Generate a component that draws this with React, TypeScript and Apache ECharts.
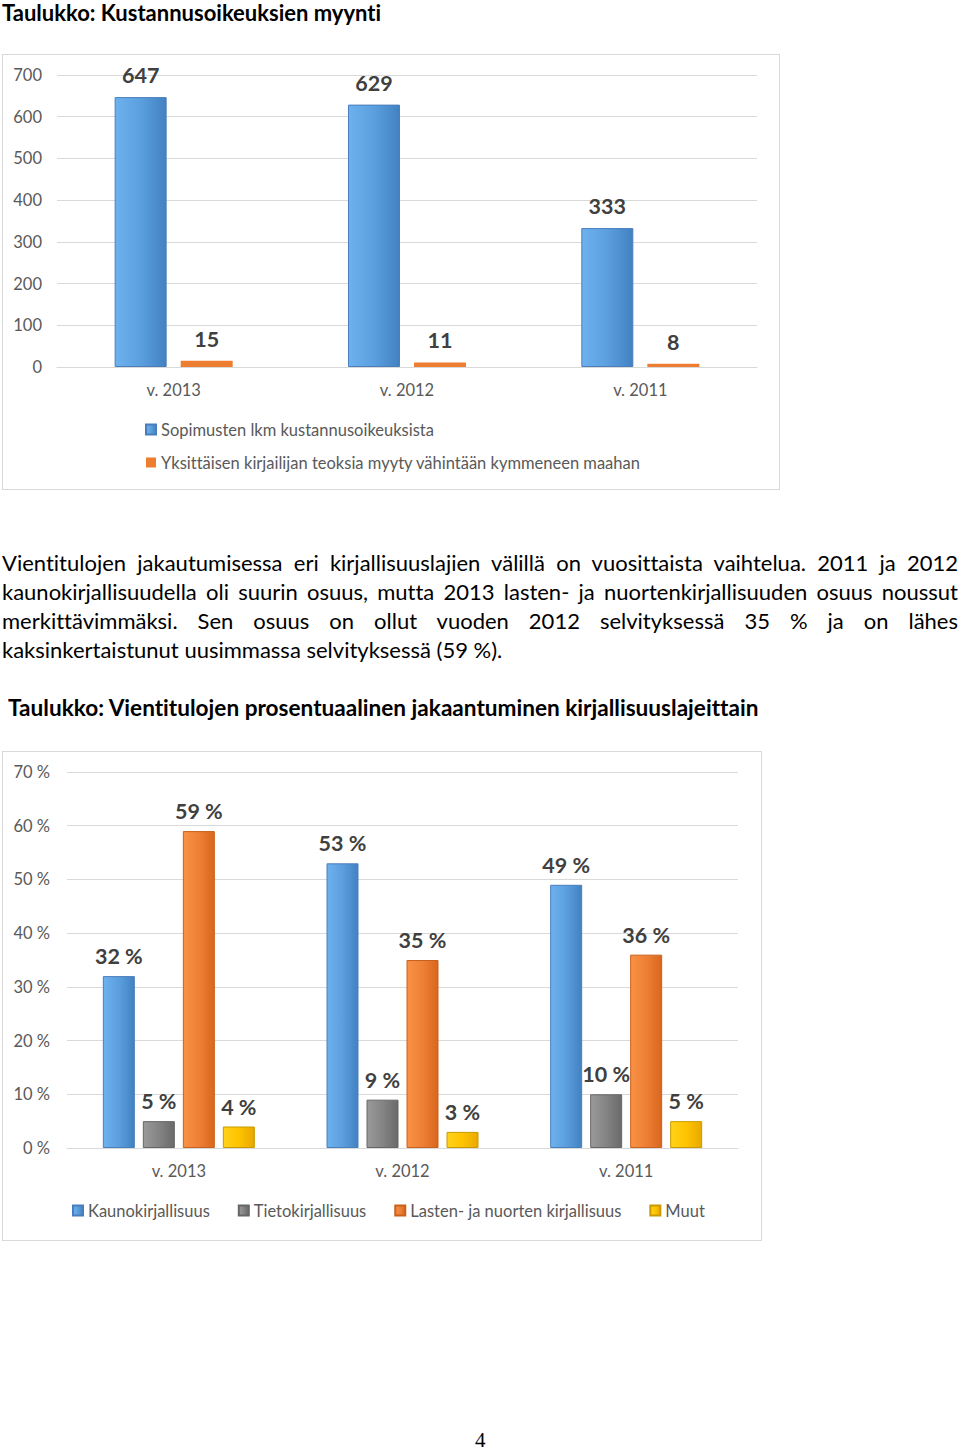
import React, { useEffect, useRef } from "react";
import * as echarts from "echarts";

const FONT = "Lato, 'Open Sans', sans-serif";

// Chart 1 data
const years1 = ["v. 2013", "v. 2012", "v. 2011"];
const contracts = [647, 629, 333];
const singleAuthor = [15, 11, 8];
const seriesNames1 = [
  "Sopimusten lkm kustannusoikeuksista",
  "Yksittäisen kirjailijan teoksia myyty vähintään kymmeneen maahan",
];

// Chart 2 data
const years2 = ["v. 2013", "v. 2012", "v. 2011"];
const fiction = [32, 53, 49];
const nonfiction = [5, 9, 10];
const childrens = [59, 35, 36];
const others = [4, 3, 5];
const seriesNames2 = [
  "Kaunokirjallisuus",
  "Tietokirjallisuus",
  "Lasten- ja nuorten kirjallisuus",
  "Muut",
];

const paraLines = [
  "Vientitulojen jakautumisessa eri kirjallisuuslajien välillä on vuosittaista vaihtelua. 2011 ja 2012",
  "kaunokirjallisuudella oli suurin osuus, mutta 2013 lasten- ja nuortenkirjallisuuden osuus noussut",
  "merkittävimmäksi. Sen osuus on ollut vuoden 2012 selvityksessä 35 % ja on lähes",
  "kaksinkertaistunut uusimmassa selvityksessä (59 %).",
];

const grad = (c1: string, c2: string, c3: string) =>
  new echarts.graphic.LinearGradient(0, 0, 1, 0, [
    { offset: 0, color: c1 },
    { offset: 0.5, color: c2 },
    { offset: 1, color: c3 },
  ]);

const BLUE = () => grad("#6db2ee", "#5b9fdf", "#4281c2");
const ORANGE = () => grad("#f99245", "#ee8035", "#d9661e");
const GRAY = () => grad("#9a9a9a", "#848484", "#6a6a6a");
const YELLOW = () => grad("#ffd21a", "#ffc400", "#e8a800");

const labelStyle = {
  show: true,
  position: "top" as const,
  fontFamily: FONT,
  fontWeight: "bold" as const,
  fontSize: 21.5,
  color: "#404040",
};

const axisFont = { fontFamily: FONT, fontSize: 16.5, color: "#595959" };

function Chart1() {
  const ref = useRef<HTMLDivElement>(null);
  useEffect(() => {
    const chart = echarts.init(ref.current!, null, { renderer: "svg" });
    chart.setOption({
      animation: false,
      grid: { left: 54, right: 22, top: 20, bottom: 122 },
      xAxis: {
        type: "category",
        data: years1,
        axisLine: { lineStyle: { color: "#d9d9d9" } },
        axisTick: { show: false },
        axisLabel: { ...axisFont, margin: 14 },
      },
      yAxis: {
        type: "value",
        min: 0,
        max: 700,
        interval: 100,
        axisLabel: { ...axisFont, margin: 15 },
        splitLine: { lineStyle: { color: "#d9d9d9" } },
      },
      legend: {
        orient: "vertical",
        left: 142,
        top: 366,
        padding: 0,
        itemWidth: 10,
        itemHeight: 10,
        itemGap: 16,
        icon: "rect",
        textStyle: { fontFamily: FONT, fontSize: 16.5, color: "#595959" },
        data: seriesNames1,
      },
      series: [
        {
          name: seriesNames1[0],
          type: "bar",
          data: contracts,
          barWidth: 52,
          barGap: "27%",
          itemStyle: { color: BLUE(), borderColor: "#4a7ebb", borderWidth: 1 },
          label: { ...labelStyle, distance: 11 },
        },
        {
          name: seriesNames1[1],
          type: "bar",
          data: singleAuthor,
          barWidth: 52,
          itemStyle: { color: "#ed7d31" },
          label: { ...labelStyle, distance: 11 },
        },
      ],
    });
    return () => chart.dispose();
  }, []);
  return <div ref={ref} style={{ width: 776, height: 434 }} />;
}

function Chart2() {
  const ref = useRef<HTMLDivElement>(null);
  useEffect(() => {
    const chart = echarts.init(ref.current!, null, { renderer: "svg" });
    const mk = (name: string, data: number[], color: any, border: string) => ({
      name,
      type: "bar",
      data,
      barWidth: 32,
      barGap: "25%",
      itemStyle: { color, borderColor: border, borderWidth: 1 },
      label: { ...labelStyle, distance: 9, formatter: "{c} %" },
    });
    chart.setOption({
      animation: false,
      grid: { left: 64, right: 23, top: 20, bottom: 92 },
      xAxis: {
        type: "category",
        data: years2,
        axisLine: { lineStyle: { color: "#d9d9d9" } },
        axisTick: { show: false },
        axisLabel: { ...axisFont, margin: 14 },
      },
      yAxis: {
        type: "value",
        min: 0,
        max: 70,
        interval: 10,
        axisLabel: { ...axisFont, margin: 17, formatter: "{value} %" },
        splitLine: { lineStyle: { color: "#d9d9d9" } },
      },
      legend: {
        left: 69,
        top: 450,
        padding: 0,
        itemWidth: 10,
        itemHeight: 10,
        itemGap: 28,
        icon: "rect",
        textStyle: { fontFamily: FONT, fontSize: 16.5, color: "#595959" },
        data: seriesNames2,
      },
      series: [
        mk(seriesNames2[0], fiction, BLUE(), "#4a7ebb"),
        mk(seriesNames2[1], nonfiction, GRAY(), "#666666"),
        mk(seriesNames2[2], childrens, ORANGE(), "#c8611c"),
        mk(seriesNames2[3], others, YELLOW(), "#c99a00"),
      ],
    });
    return () => chart.dispose();
  }, []);
  return <div ref={ref} style={{ width: 758, height: 488 }} />;
}

export default function App() {
  const abs = (o: React.CSSProperties): React.CSSProperties => ({ position: "absolute", ...o });
  return (
    <div
      style={{
        position: "absolute",
        left: 0,
        top: 0,
        width: 960,
        height: 1451,
        background: "#fff",
        fontFamily: FONT,
        fontVariantLigatures: "none",
        color: "#000",
        overflow: "hidden",
      }}
    >
      <div style={abs({ left: 2, top: 2, fontSize: 22, fontWeight: "bold", lineHeight: "21px" })}>
        Taulukko: Kustannusoikeuksien myynti
      </div>
      <div
        style={abs({
          left: 2,
          top: 54,
          width: 778,
          height: 436,
          border: "1px solid #d9d9d9",
          boxSizing: "border-box",
        })}
      >
        <Chart1 />
      </div>
      {paraLines.map((t, i) => (
        <div
          key={i}
          style={abs({
            left: 2,
            top: 548 + i * 29,
            width: 956,
            fontSize: 22,
            lineHeight: "29px",
            textAlign: "justify",
            textAlignLast: i < 3 ? "justify" : "left",
            whiteSpace: "nowrap",
          })}
        >
          {t}
        </div>
      ))}
      <div style={abs({ left: 8, top: 695, fontSize: 22.6, fontWeight: "bold", lineHeight: "26px" })}>
        Taulukko: Vientitulojen prosentuaalinen jakaantuminen kirjallisuuslajeittain
      </div>
      <div
        style={abs({
          left: 2,
          top: 751,
          width: 760,
          height: 490,
          border: "1px solid #d9d9d9",
          boxSizing: "border-box",
        })}
      >
        <Chart2 />
      </div>
      <div
        style={abs({
          left: 475,
          top: 1428,
          fontSize: 21,
          fontFamily: "'Liberation Serif', 'DejaVu Serif', serif",
          lineHeight: "24px",
        })}
      >
        4
      </div>
    </div>
  );
}
